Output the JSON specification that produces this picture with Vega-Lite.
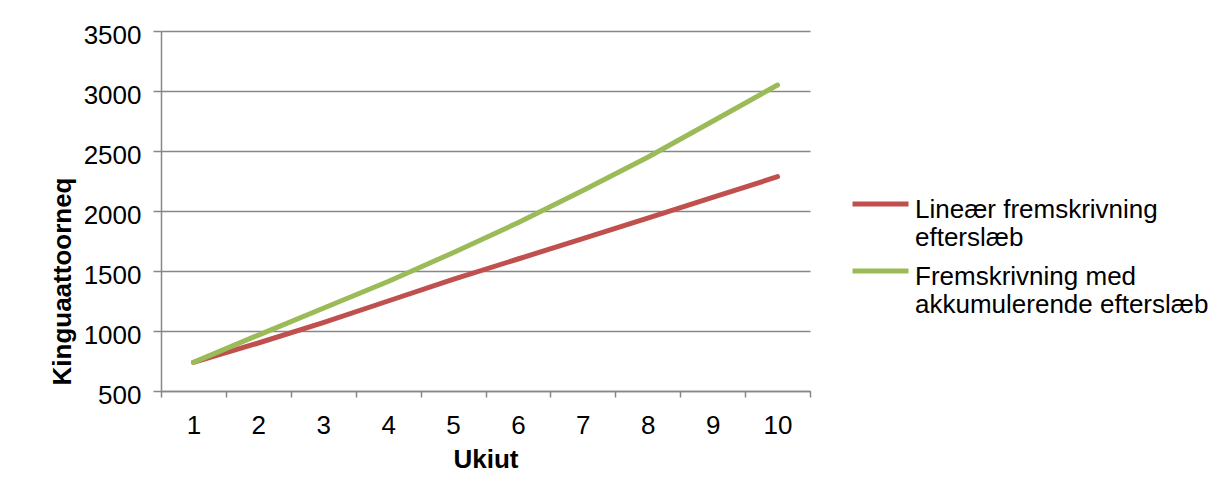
{
  "$schema": "https://vega.github.io/schema/vega-lite/v6.json",
  "autosize": {"type": "none"},
  "width": 649,
  "height": 360,
  "padding": {"left": 161, "top": 31, "right": 409, "bottom": 109},
  "background": "white",
  "config": {
    "font": "Liberation Sans",
    "view": {"stroke": null},
    "axis": {
      "labelFont": "Liberation Sans",
      "titleFont": "Liberation Sans",
      "labelFontSize": 26,
      "titleFontSize": 26,
      "labelColor": "#000000",
      "titleColor": "#000000",
      "titleFontWeight": "bold",
      "domainColor": "#878787",
      "tickColor": "#878787",
      "gridColor": "#878787",
      "domainWidth": 1.5,
      "tickWidth": 1.5,
      "gridWidth": 1.5
    }
  },
  "data": {
    "values": [
      {"year": "1", "value": 739, "series": "Lineær fremskrivning efterslæb"},
      {"year": "2", "value": 900, "series": "Lineær fremskrivning efterslæb"},
      {"year": "3", "value": 1070, "series": "Lineær fremskrivning efterslæb"},
      {"year": "4", "value": 1250, "series": "Lineær fremskrivning efterslæb"},
      {"year": "5", "value": 1430, "series": "Lineær fremskrivning efterslæb"},
      {"year": "6", "value": 1600, "series": "Lineær fremskrivning efterslæb"},
      {"year": "7", "value": 1770, "series": "Lineær fremskrivning efterslæb"},
      {"year": "8", "value": 1940, "series": "Lineær fremskrivning efterslæb"},
      {"year": "9", "value": 2113, "series": "Lineær fremskrivning efterslæb"},
      {"year": "10", "value": 2286, "series": "Lineær fremskrivning efterslæb"},
      {"year": "1", "value": 739, "series": "Fremskrivning med akkumulerende efterslæb"},
      {"year": "2", "value": 966, "series": "Fremskrivning med akkumulerende efterslæb"},
      {"year": "3", "value": 1190, "series": "Fremskrivning med akkumulerende efterslæb"},
      {"year": "4", "value": 1413, "series": "Fremskrivning med akkumulerende efterslæb"},
      {"year": "5", "value": 1652, "series": "Fremskrivning med akkumulerende efterslæb"},
      {"year": "6", "value": 1902, "series": "Fremskrivning med akkumulerende efterslæb"},
      {"year": "7", "value": 2170, "series": "Fremskrivning med akkumulerende efterslæb"},
      {"year": "8", "value": 2448, "series": "Fremskrivning med akkumulerende efterslæb"},
      {"year": "9", "value": 2748, "series": "Fremskrivning med akkumulerende efterslæb"},
      {"year": "10", "value": 3050, "series": "Fremskrivning med akkumulerende efterslæb"}
    ]
  },
  "mark": {"type": "line", "strokeWidth": 5, "strokeCap": "round", "strokeJoin": "round"},
  "encoding": {
    "x": {
      "field": "year",
      "type": "ordinal",
      "sort": null,
      "bandPosition": 0.5,
      "scale": {"type": "band", "paddingInner": 0, "paddingOuter": 0},
      "axis": {
        "title": "Ukiut",
        "labelAngle": 0,
        "tickBand": "extent",
        "tickSize": 6,
        "labelPadding": 15,
        "labelBaseline": "top",
        "titlePadding": 8,
        "grid": false
      }
    },
    "y": {
      "field": "value",
      "type": "quantitative",
      "scale": {"domain": [500, 3500], "nice": false, "zero": false},
      "axis": {
        "title": "Kinguaattoorneq",
        "values": [500, 1000, 1500, 2000, 2500, 3000, 3500],
        "format": "d",
        "tickSize": 8,
        "labelPadding": 12,
        "labelOffset": 4,
        "grid": true,
        "titleX": -99,
        "titleY": 250,
        "titleAlign": "center",
        "titleBaseline": "middle",
        "titleAngle": -90
      }
    },
    "color": {
      "field": "series",
      "type": "nominal",
      "sort": ["Lineær fremskrivning efterslæb", "Fremskrivning med akkumulerende efterslæb"],
      "scale": {
        "domain": ["Lineær fremskrivning efterslæb", "Fremskrivning med akkumulerende efterslæb"],
        "range": ["#C0504D", "#9BBB59"]
      },
      "legend": {
        "title": null,
        "orient": "none",
        "legendX": 689,
        "legendY": 156,
        "padding": 0,
        "symbolType": "M-1,-0.486H1",
        "symbolSize": 3136,
        "symbolStrokeWidth": 5,
        "labelFont": "Liberation Sans",
        "labelFontSize": 26,
        "labelColor": "#000000",
        "labelLimit": 400,
        "labelOffset": 4,
        "rowPadding": 3,
        "labelBaseline": "alphabetic",
        "labelExpr": "datum.label == 'Lineær fremskrivning efterslæb' ? ['Lineær fremskrivning', 'efterslæb'] : ['Fremskrivning med', 'akkumulerende efterslæb']"
      }
    }
  }
}
